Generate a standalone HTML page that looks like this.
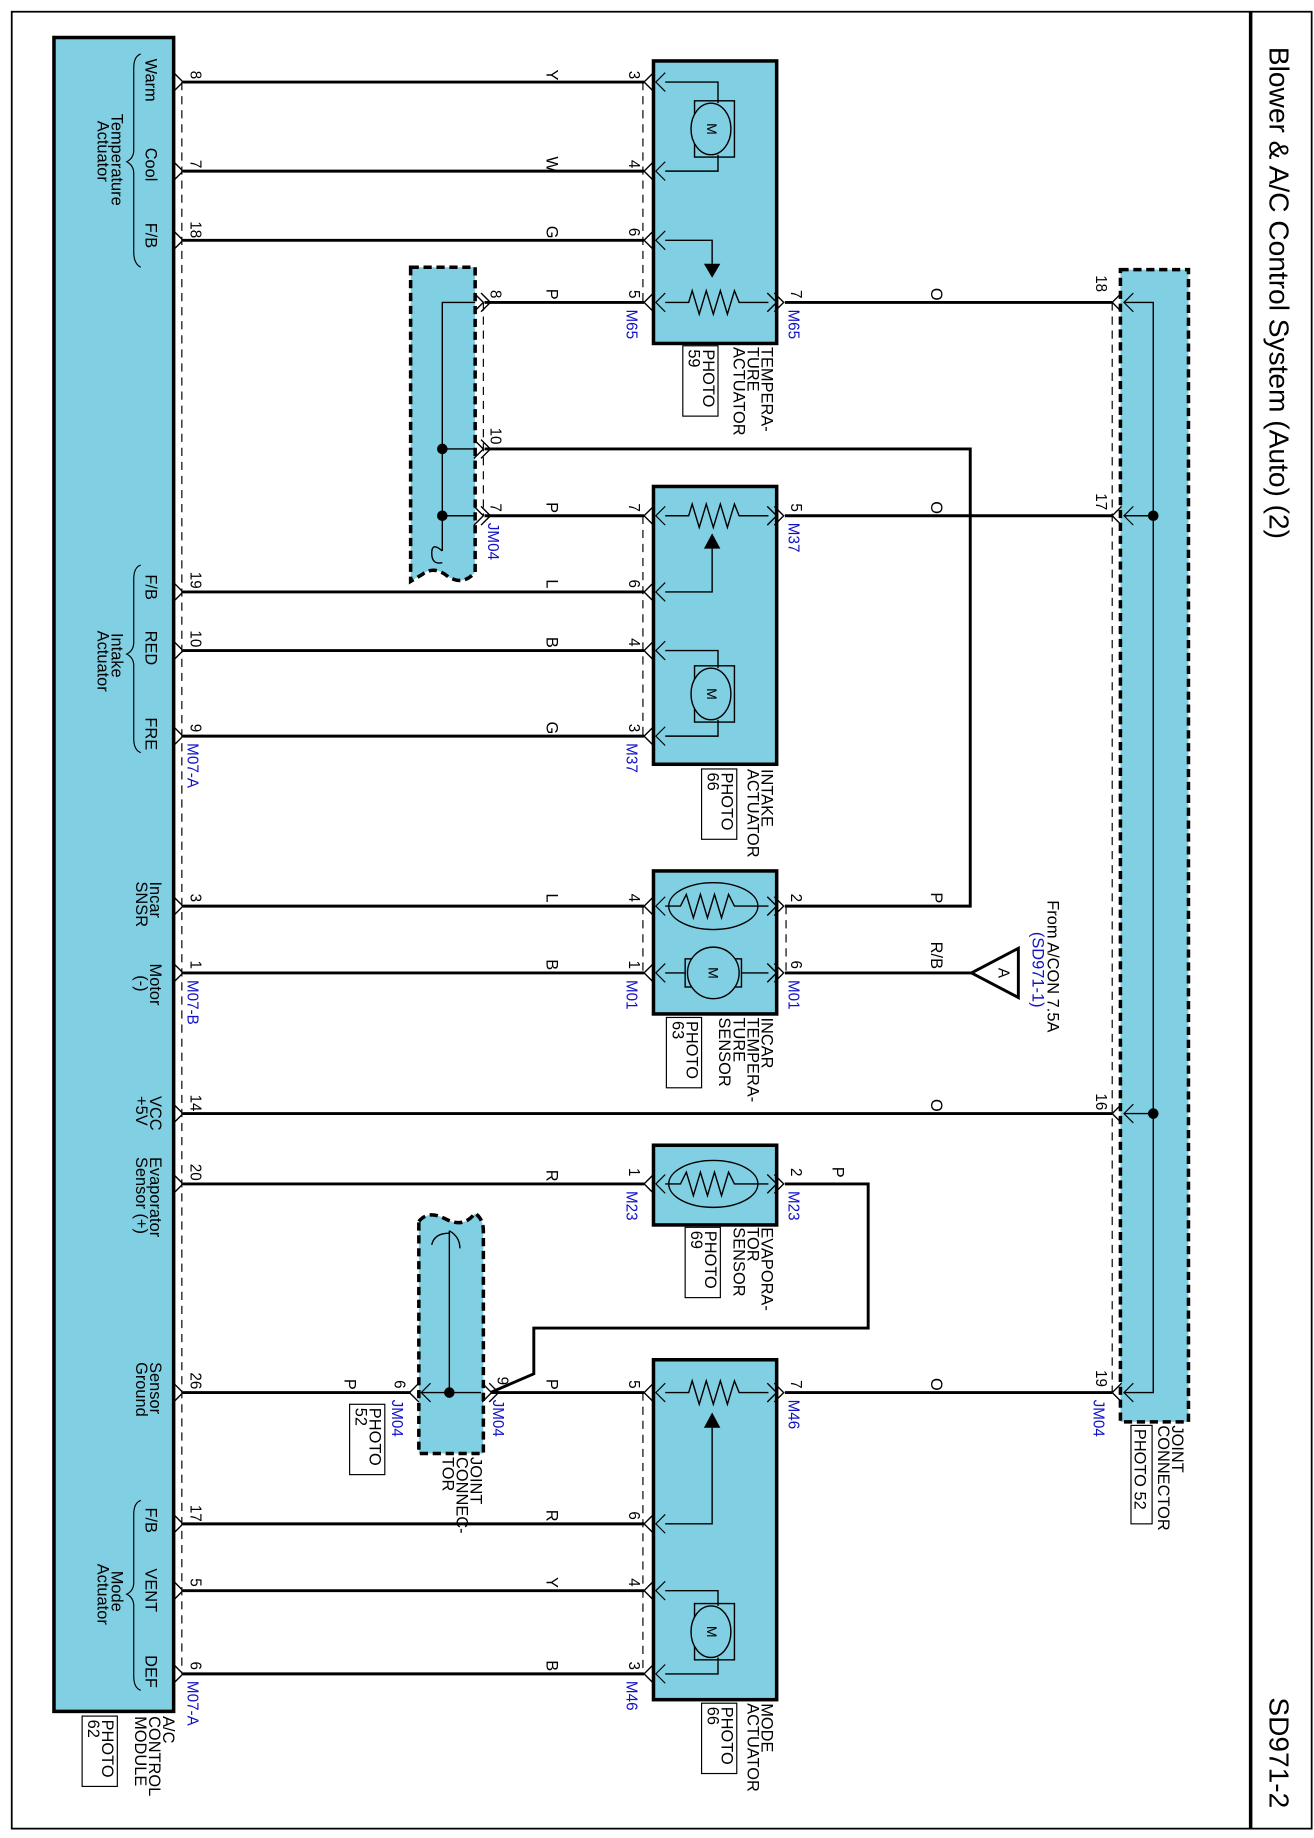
<!DOCTYPE html>
<html><head><meta charset="utf-8"><style>
html,body{margin:0;padding:0;background:#fff}
svg{display:block}
text{font-family:"Liberation Sans",sans-serif;fill:#000}
.b{fill:#1010c8}
</style></head><body>
<svg width="1314" height="1838" viewBox="0 0 1120 1568" preserveAspectRatio="none" xmlns="http://www.w3.org/2000/svg">
<defs>
<g id="mp"><path d="M-8,-8 L0,0 L-8,8" fill="none" stroke="#000" stroke-width="1.2"/></g>
<g id="cl"><path d="M8,-8 L0,0 L8,8" fill="none" stroke="#000" stroke-width="1.2"/><path d="M18,-8 L10,0 L18,8" fill="none" stroke="#000" stroke-width="1"/></g>
<g id="cr"><path d="M-8,-8 L0,0 L-8,8" fill="none" stroke="#000" stroke-width="1.2"/><path d="M-2,-8 L6,0 L-2,8" fill="none" stroke="#000" stroke-width="1.2"/></g>
</defs>
<rect x="10" y="10" width="1108" height="1550" fill="none" stroke="#000" stroke-width="1.5"/>
<line x1="1066" y1="10" x2="1066" y2="1560" stroke="#000" stroke-width="3"/>
<g transform="translate(1082,40) rotate(90)"><text font-size="24">Blower &amp; A/C Control System (Auto) (2)</text></g>
<g transform="translate(1082,1448) rotate(90)"><text font-size="24">SD971-2</text></g>

<!-- module -->
<rect x="46" y="32" width="102" height="1428" fill="#80cfe2" stroke="#000" stroke-width="3"/>
<line x1="155" y1="70" x2="155" y2="1428" stroke="#000" stroke-width="1" stroke-dasharray="7,5"/>
<line x1="548" y1="70" x2="548" y2="258" stroke="#000" stroke-width="1" stroke-dasharray="7,5"/>
<line x1="548" y1="440" x2="548" y2="628" stroke="#000" stroke-width="1" stroke-dasharray="7,5"/>
<line x1="548" y1="773" x2="548" y2="830" stroke="#000" stroke-width="1" stroke-dasharray="7,5"/>
<line x1="670" y1="773" x2="670" y2="830" stroke="#000" stroke-width="1" stroke-dasharray="7,5"/>
<line x1="548" y1="1188" x2="548" y2="1428" stroke="#000" stroke-width="1" stroke-dasharray="7,5"/>
<line x1="412" y1="258" x2="412" y2="440" stroke="#000" stroke-width="1" stroke-dasharray="7,5"/>
<line x1="948" y1="258" x2="948" y2="1188" stroke="#000" stroke-width="1" stroke-dasharray="7,5"/>

<g font-size="14">
<g transform="translate(124,50) rotate(90)"><text>Warm</text></g>
<g transform="translate(124,126) rotate(90)"><text>Cool</text></g>
<g transform="translate(124,190) rotate(90)"><text>F/B</text></g>
<g transform="translate(95,97) rotate(90)"><text>Temperature</text></g>
<g transform="translate(83,103) rotate(90)"><text>Actuator</text></g>
<g transform="translate(124,490) rotate(90)"><text>F/B</text></g>
<g transform="translate(124,538) rotate(90)"><text>RED</text></g>
<g transform="translate(124,612) rotate(90)"><text>FRE</text></g>
<g transform="translate(95,540) rotate(90)"><text>Intake</text></g>
<g transform="translate(83,538) rotate(90)"><text>Actuator</text></g>
<g transform="translate(128,752) rotate(90)"><text>Incar</text></g>
<g transform="translate(116,752) rotate(90)"><text>SNSR</text></g>
<g transform="translate(128,822) rotate(90)"><text>Motor</text></g>
<g transform="translate(116,832) rotate(90)"><text>(-)</text></g>
<g transform="translate(128,935) rotate(90)"><text>VCC</text></g>
<g transform="translate(116,935) rotate(90)"><text>+5V</text></g>
<g transform="translate(128,987) rotate(90)"><text>Evaporator</text></g>
<g transform="translate(116,987) rotate(90)"><text>Sensor (+)</text></g>
<g transform="translate(128,1162) rotate(90)"><text>Sensor</text></g>
<g transform="translate(116,1162) rotate(90)"><text>Ground</text></g>
<g transform="translate(124,1286) rotate(90)"><text>F/B</text></g>
<g transform="translate(124,1338) rotate(90)"><text>VENT</text></g>
<g transform="translate(124,1412) rotate(90)"><text>DEF</text></g>
<g transform="translate(95,1340) rotate(90)"><text>Mode</text></g>
<g transform="translate(83,1334) rotate(90)"><text>Actuator</text></g>
</g>
<g fill="none" stroke="#000" stroke-width="1">
<path d="M120,46 Q114,48 114,58 L114,128 Q114,135 108,138 Q114,141 114,148 L114,215 Q114,225 120,228"/>
<path d="M120,482 Q114,484 114,494 L114,548 Q114,555 108,558 Q114,561 114,568 L114,630 Q114,640 120,642"/>
<path d="M120,1280 Q114,1282 114,1292 L114,1350 Q114,1357 108,1360 Q114,1363 114,1370 L114,1430 Q114,1440 120,1442"/>
</g>

<!-- wires -->
<g stroke="#000" stroke-width="2.5" fill="none">
<line x1="156" y1="70" x2="549" y2="70"/>
<line x1="156" y1="146" x2="549" y2="146"/>
<line x1="156" y1="205" x2="549" y2="205"/>
<line x1="413" y1="258" x2="549" y2="258"/>
<line x1="669" y1="258" x2="948" y2="258"/>
<polyline points="413,383 827,383 827,773 669,773"/>
<line x1="413" y1="440" x2="549" y2="440"/>
<line x1="669" y1="440" x2="948" y2="440"/>
<line x1="156" y1="505" x2="549" y2="505"/>
<line x1="156" y1="555" x2="549" y2="555"/>
<line x1="156" y1="628" x2="549" y2="628"/>
<line x1="156" y1="773" x2="549" y2="773"/>
<line x1="156" y1="830" x2="549" y2="830"/>
<line x1="669" y1="830" x2="828" y2="830"/>
<line x1="156" y1="950" x2="948" y2="950"/>
<line x1="156" y1="1010" x2="549" y2="1010"/>
<polyline points="669,1010 740,1010 740,1133 455,1133 455,1172 418,1188"/>
<line x1="156" y1="1188" x2="350" y2="1188"/>
<line x1="419" y1="1188" x2="549" y2="1188"/>
<line x1="669" y1="1188" x2="948" y2="1188"/>
<line x1="156" y1="1300" x2="549" y2="1300"/>
<line x1="156" y1="1357" x2="549" y2="1357"/>
<line x1="156" y1="1428" x2="549" y2="1428"/>
</g>

<!-- module pins -->
<g>
<use href="#mp" x="156" y="70"/><use href="#mp" x="156" y="146"/><use href="#mp" x="156" y="205"/>
<use href="#mp" x="156" y="505"/><use href="#mp" x="156" y="555"/><use href="#mp" x="156" y="628"/>
<use href="#mp" x="156" y="773"/><use href="#mp" x="156" y="830"/><use href="#mp" x="156" y="950"/>
<use href="#mp" x="156" y="1010"/><use href="#mp" x="156" y="1188"/><use href="#mp" x="156" y="1300"/>
<use href="#mp" x="156" y="1357"/><use href="#mp" x="156" y="1428"/>
</g>

<!-- components -->
<g fill="#80cfe2" stroke="#000" stroke-width="3">
<rect x="557" y="52" width="105" height="241"/>
<rect x="557" y="415" width="105" height="237"/>
<rect x="557" y="743" width="105" height="122"/>
<rect x="557" y="977" width="105" height="68"/>
<rect x="557" y="1160" width="105" height="290"/>
</g>
<g fill="#80cfe2" stroke="#000" stroke-width="3" stroke-dasharray="7,4">
<rect x="955" y="230" width="58" height="983"/>
<path d="M350,228 L405,228 L405,488 Q395,500 382,492 Q370,482 360,490 L350,496 Z"/>
<path d="M357,1042 Q365,1032 380,1040 Q395,1048 405,1035 Q412,1040 412,1050 L412,1240 L357,1240 Z"/>
</g>
<!-- component pin chevrons -->
<g>
<use href="#cl" x="549" y="70"/><use href="#cl" x="549" y="146"/><use href="#cl" x="549" y="205"/><use href="#cl" x="549" y="258"/>
<use href="#cr" x="662" y="258"/>
<use href="#cl" x="549" y="440"/><use href="#cl" x="549" y="505"/><use href="#cl" x="549" y="555"/><use href="#cl" x="549" y="628"/>
<use href="#cr" x="662" y="440"/>
<use href="#cl" x="549" y="773"/><use href="#cl" x="549" y="830"/><use href="#cr" x="662" y="773"/><use href="#cr" x="662" y="830"/>
<use href="#cl" x="549" y="1010"/><use href="#cr" x="662" y="1010"/>
<use href="#cl" x="549" y="1188"/><use href="#cl" x="549" y="1300"/><use href="#cl" x="549" y="1357"/><use href="#cl" x="549" y="1428"/>
<use href="#cr" x="662" y="1188"/>
<use href="#cl" x="948" y="258"/><use href="#cl" x="948" y="440"/><use href="#cl" x="948" y="950"/><use href="#cl" x="948" y="1188"/>
<use href="#cr" x="412" y="258"/><use href="#cr" x="412" y="383"/><use href="#cr" x="412" y="440"/>
<use href="#cr" x="419" y="1188"/><use href="#cl" x="349" y="1188"/>
</g>

<!-- internals -->
<g fill="none" stroke="#000" stroke-width="1.2">
<polyline points="567,70 612,70 612,88"/><polyline points="567,146 612,146 612,132"/>
<rect x="592" y="86" width="34" height="48"/><ellipse cx="606" cy="110" rx="17" ry="22" fill="#80cfe2"/>
<polyline points="567,205 607,205 607,225"/>
<polyline points="567,258 587,258 590,248 596,268 602,248 608,268 614,248 620,268 626,248 630,258 655,258"/>
<polyline points="567,440 587,440 590,430 596,450 602,430 608,450 614,430 620,450 626,430 630,440 655,440"/>
<polyline points="567,505 607,505 607,468"/>
<polyline points="567,555 612,555 612,570"/><polyline points="567,628 612,628 612,614"/>
<rect x="592" y="568" width="34" height="48"/><ellipse cx="606" cy="592" rx="17" ry="22" fill="#80cfe2"/>
<ellipse cx="608" cy="773" rx="38" ry="20"/>
<polyline points="567,773 580,773 585,763 591,783 597,763 603,783 609,763 615,783 621,763 626,773 655,773"/>
<polyline points="567,830 584,830"/><polyline points="632,830 655,830"/>
<rect x="584" y="818" width="48" height="24"/><circle cx="608" cy="830" r="22" fill="#80cfe2"/>
<ellipse cx="608" cy="1010" rx="38" ry="20"/>
<polyline points="567,1010 580,1010 585,1000 591,1020 597,1000 603,1020 609,1000 615,1020 621,1000 626,1010 655,1010"/>
<polyline points="567,1188 587,1188 590,1178 596,1198 602,1178 608,1198 614,1178 620,1198 626,1178 630,1188 655,1188"/>
<polyline points="567,1300 607,1300 607,1218"/>
<polyline points="567,1357 612,1357 612,1370"/><polyline points="567,1428 612,1428 612,1414"/>
<rect x="592" y="1368" width="34" height="48"/><ellipse cx="606" cy="1392" rx="17" ry="22" fill="#80cfe2"/>
<polyline points="958,258 983,258 983,1188 958,1188"/>
<line x1="958" y1="440" x2="983" y2="440"/><line x1="958" y1="950" x2="983" y2="950"/>
<polyline points="405,258 377,258 377,470"/>
<line x1="377" y1="383" x2="405" y2="383"/><line x1="377" y1="440" x2="405" y2="440"/>
<path d="M377,470 Q368,462 368,472 Q368,482 377,480"/>
<line x1="383" y1="1050" x2="383" y2="1188"/>
<line x1="359" y1="1188" x2="410" y2="1188"/>
<path d="M383,1050 Q392,1055 392,1065 M383,1052 Q370,1052 368,1062"/>
</g>
<g fill="#000">
<path d="M600,225 L614,225 L607,237 Z"/>
<path d="M600,468 L614,468 L607,455 Z"/>
<path d="M600,1218 L614,1218 L607,1205 Z"/>
<circle cx="983" cy="440" r="4.5"/><circle cx="983" cy="950" r="4.5"/>
<circle cx="377" cy="383" r="4.5"/><circle cx="377" cy="440" r="4.5"/><circle cx="383" cy="1188" r="4.5"/>
</g>
<g font-size="12">
<g transform="translate(607,110) rotate(90)"><text text-anchor="middle" dominant-baseline="central">M</text></g>
<g transform="translate(607,592) rotate(90)"><text text-anchor="middle" dominant-baseline="central">M</text></g>
<g transform="translate(608,830) rotate(90)"><text text-anchor="middle" dominant-baseline="central">M</text></g>
<g transform="translate(607,1392) rotate(90)"><text text-anchor="middle" dominant-baseline="central">M</text></g>
</g>

<path d="M828,830 L868,809 L868,851 Z" fill="#fff" stroke="#000" stroke-width="2.5"/>
<g transform="translate(855,830) rotate(90)"><text font-size="13" text-anchor="middle" dominant-baseline="central">A</text></g>
<g transform="translate(893,768) rotate(90)"><text font-size="14">From A/CON 7.5A</text></g>
<g transform="translate(880,795) rotate(90)"><text font-size="14" class="b">(SD971-1)</text></g>

<g font-size="14">
<g transform="translate(470,64) rotate(90)"><text text-anchor="middle" dominant-baseline="central">Y</text></g>
<g transform="translate(470,140) rotate(90)"><text text-anchor="middle" dominant-baseline="central">W</text></g>
<g transform="translate(470,198) rotate(90)"><text text-anchor="middle" dominant-baseline="central">G</text></g>
<g transform="translate(470,251) rotate(90)"><text text-anchor="middle" dominant-baseline="central">P</text></g>
<g transform="translate(798,251) rotate(90)"><text text-anchor="middle" dominant-baseline="central">O</text></g>
<g transform="translate(470,433) rotate(90)"><text text-anchor="middle" dominant-baseline="central">P</text></g>
<g transform="translate(798,433) rotate(90)"><text text-anchor="middle" dominant-baseline="central">O</text></g>
<g transform="translate(470,498) rotate(90)"><text text-anchor="middle" dominant-baseline="central">L</text></g>
<g transform="translate(470,548) rotate(90)"><text text-anchor="middle" dominant-baseline="central">B</text></g>
<g transform="translate(470,621) rotate(90)"><text text-anchor="middle" dominant-baseline="central">G</text></g>
<g transform="translate(470,766) rotate(90)"><text text-anchor="middle" dominant-baseline="central">L</text></g>
<g transform="translate(798,766) rotate(90)"><text text-anchor="middle" dominant-baseline="central">P</text></g>
<g transform="translate(470,823) rotate(90)"><text text-anchor="middle" dominant-baseline="central">B</text></g>
<g transform="translate(798,815) rotate(90)"><text text-anchor="middle" dominant-baseline="central">R/B</text></g>
<g transform="translate(798,943) rotate(90)"><text text-anchor="middle" dominant-baseline="central">O</text></g>
<g transform="translate(470,1003) rotate(90)"><text text-anchor="middle" dominant-baseline="central">R</text></g>
<g transform="translate(714,1000) rotate(90)"><text text-anchor="middle" dominant-baseline="central">P</text></g>
<g transform="translate(298,1181) rotate(90)"><text text-anchor="middle" dominant-baseline="central">P</text></g>
<g transform="translate(470,1181) rotate(90)"><text text-anchor="middle" dominant-baseline="central">P</text></g>
<g transform="translate(798,1181) rotate(90)"><text text-anchor="middle" dominant-baseline="central">O</text></g>
<g transform="translate(470,1293) rotate(90)"><text text-anchor="middle" dominant-baseline="central">R</text></g>
<g transform="translate(470,1350) rotate(90)"><text text-anchor="middle" dominant-baseline="central">Y</text></g>
<g transform="translate(470,1421) rotate(90)"><text text-anchor="middle" dominant-baseline="central">B</text></g>
</g>

<g font-size="13">
<g transform="translate(166,64) rotate(90)"><text text-anchor="middle" dominant-baseline="central">8</text></g>
<g transform="translate(166,140) rotate(90)"><text text-anchor="middle" dominant-baseline="central">7</text></g>
<g transform="translate(166,196) rotate(90)"><text text-anchor="middle" dominant-baseline="central">18</text></g>
<g transform="translate(166,495) rotate(90)"><text text-anchor="middle" dominant-baseline="central">19</text></g>
<g transform="translate(166,545) rotate(90)"><text text-anchor="middle" dominant-baseline="central">10</text></g>
<g transform="translate(166,621) rotate(90)"><text text-anchor="middle" dominant-baseline="central">9</text></g>
<g transform="translate(166,766) rotate(90)"><text text-anchor="middle" dominant-baseline="central">3</text></g>
<g transform="translate(166,823) rotate(90)"><text text-anchor="middle" dominant-baseline="central">1</text></g>
<g transform="translate(166,941) rotate(90)"><text text-anchor="middle" dominant-baseline="central">14</text></g>
<g transform="translate(166,1000) rotate(90)"><text text-anchor="middle" dominant-baseline="central">20</text></g>
<g transform="translate(166,1178) rotate(90)"><text text-anchor="middle" dominant-baseline="central">26</text></g>
<g transform="translate(166,1291) rotate(90)"><text text-anchor="middle" dominant-baseline="central">17</text></g>
<g transform="translate(166,1350) rotate(90)"><text text-anchor="middle" dominant-baseline="central">5</text></g>
<g transform="translate(166,1421) rotate(90)"><text text-anchor="middle" dominant-baseline="central">6</text></g>
<g transform="translate(540,64) rotate(90)"><text text-anchor="middle" dominant-baseline="central">3</text></g>
<g transform="translate(540,140) rotate(90)"><text text-anchor="middle" dominant-baseline="central">4</text></g>
<g transform="translate(540,198) rotate(90)"><text text-anchor="middle" dominant-baseline="central">6</text></g>
<g transform="translate(540,251) rotate(90)"><text text-anchor="middle" dominant-baseline="central">5</text></g>
<g transform="translate(678,251) rotate(90)"><text text-anchor="middle" dominant-baseline="central">7</text></g>
<g transform="translate(422,251) rotate(90)"><text text-anchor="middle" dominant-baseline="central">8</text></g>
<g transform="translate(422,372) rotate(90)"><text text-anchor="middle" dominant-baseline="central">10</text></g>
<g transform="translate(422,433) rotate(90)"><text text-anchor="middle" dominant-baseline="central">7</text></g>
<g transform="translate(540,433) rotate(90)"><text text-anchor="middle" dominant-baseline="central">7</text></g>
<g transform="translate(678,433) rotate(90)"><text text-anchor="middle" dominant-baseline="central">5</text></g>
<g transform="translate(540,498) rotate(90)"><text text-anchor="middle" dominant-baseline="central">6</text></g>
<g transform="translate(540,548) rotate(90)"><text text-anchor="middle" dominant-baseline="central">4</text></g>
<g transform="translate(540,621) rotate(90)"><text text-anchor="middle" dominant-baseline="central">3</text></g>
<g transform="translate(540,766) rotate(90)"><text text-anchor="middle" dominant-baseline="central">4</text></g>
<g transform="translate(678,766) rotate(90)"><text text-anchor="middle" dominant-baseline="central">2</text></g>
<g transform="translate(540,823) rotate(90)"><text text-anchor="middle" dominant-baseline="central">1</text></g>
<g transform="translate(678,823) rotate(90)"><text text-anchor="middle" dominant-baseline="central">6</text></g>
<g transform="translate(540,1000) rotate(90)"><text text-anchor="middle" dominant-baseline="central">1</text></g>
<g transform="translate(678,1000) rotate(90)"><text text-anchor="middle" dominant-baseline="central">2</text></g>
<g transform="translate(340,1181) rotate(90)"><text text-anchor="middle" dominant-baseline="central">6</text></g>
<g transform="translate(428,1178) rotate(90)"><text text-anchor="middle" dominant-baseline="central">9</text></g>
<g transform="translate(540,1181) rotate(90)"><text text-anchor="middle" dominant-baseline="central">5</text></g>
<g transform="translate(678,1181) rotate(90)"><text text-anchor="middle" dominant-baseline="central">7</text></g>
<g transform="translate(540,1293) rotate(90)"><text text-anchor="middle" dominant-baseline="central">6</text></g>
<g transform="translate(540,1350) rotate(90)"><text text-anchor="middle" dominant-baseline="central">4</text></g>
<g transform="translate(540,1421) rotate(90)"><text text-anchor="middle" dominant-baseline="central">3</text></g>
<g transform="translate(938,242) rotate(90)"><text text-anchor="middle" dominant-baseline="central">18</text></g>
<g transform="translate(938,428) rotate(90)"><text text-anchor="middle" dominant-baseline="central">17</text></g>
<g transform="translate(938,940) rotate(90)"><text text-anchor="middle" dominant-baseline="central">16</text></g>
<g transform="translate(938,1176) rotate(90)"><text text-anchor="middle" dominant-baseline="central">19</text></g>
</g>

<g font-size="13">
<g transform="translate(534,264) rotate(90)"><text class="b">M65</text></g>
<g transform="translate(672,264) rotate(90)"><text class="b">M65</text></g>
<g transform="translate(416,446) rotate(90)"><text class="b">JM04</text></g>
<g transform="translate(672,446) rotate(90)"><text class="b">M37</text></g>
<g transform="translate(534,634) rotate(90)"><text class="b">M37</text></g>
<g transform="translate(160,634) rotate(90)"><text class="b">M07-A</text></g>
<g transform="translate(160,836) rotate(90)"><text class="b">M07-B</text></g>
<g transform="translate(534,836) rotate(90)"><text class="b">M01</text></g>
<g transform="translate(672,836) rotate(90)"><text class="b">M01</text></g>
<g transform="translate(534,1016) rotate(90)"><text class="b">M23</text></g>
<g transform="translate(672,1016) rotate(90)"><text class="b">M23</text></g>
<g transform="translate(334,1194) rotate(90)"><text class="b">JM04</text></g>
<g transform="translate(420,1194) rotate(90)"><text class="b">JM04</text></g>
<g transform="translate(672,1194) rotate(90)"><text class="b">M46</text></g>
<g transform="translate(932,1194) rotate(90)"><text class="b">JM04</text></g>
<g transform="translate(534,1434) rotate(90)"><text class="b">M46</text></g>
<g transform="translate(160,1434) rotate(90)"><text class="b">M07-A</text></g>
</g>

<g font-size="14">
<g transform="translate(649,296) rotate(90)"><text>TEMPERA-<tspan x="0" dy="12">TURE</tspan><tspan x="0" dy="12">ACTUATOR</tspan></text></g>
<rect x="582" y="295" width="30" height="60" fill="none" stroke="#000" stroke-width="1"/>
<g transform="translate(599,298) rotate(90)"><text>PHOTO<tspan x="0" dy="12">59</tspan></text></g>
<g transform="translate(649,656) rotate(90)"><text>INTAKE<tspan x="0" dy="12">ACTUATOR</tspan></text></g>
<rect x="598" y="656" width="30" height="60" fill="none" stroke="#000" stroke-width="1"/>
<g transform="translate(615,659) rotate(90)"><text>PHOTO<tspan x="0" dy="12">66</tspan></text></g>
<g transform="translate(649,868) rotate(90)"><text>INCAR<tspan x="0" dy="12">TEMPERA-</tspan><tspan x="0" dy="12">TURE</tspan><tspan x="0" dy="12">SENSOR</tspan></text></g>
<rect x="568" y="868" width="30" height="60" fill="none" stroke="#000" stroke-width="1"/>
<g transform="translate(585,871) rotate(90)"><text>PHOTO<tspan x="0" dy="12">63</tspan></text></g>
<g transform="translate(649,1047) rotate(90)"><text>EVAPORA-<tspan x="0" dy="12">TOR</tspan><tspan x="0" dy="12">SENSOR</tspan></text></g>
<rect x="584" y="1047" width="30" height="60" fill="none" stroke="#000" stroke-width="1"/>
<g transform="translate(601,1050) rotate(90)"><text>PHOTO<tspan x="0" dy="12">69</tspan></text></g>
<g transform="translate(649,1453) rotate(90)"><text>MODE<tspan x="0" dy="12">ACTUATOR</tspan></text></g>
<rect x="598" y="1453" width="30" height="60" fill="none" stroke="#000" stroke-width="1"/>
<g transform="translate(615,1456) rotate(90)"><text>PHOTO<tspan x="0" dy="12">66</tspan></text></g>
<g transform="translate(999,1216) rotate(90)"><text>JOINT<tspan x="0" dy="12">CONNECTOR</tspan></text></g>
<rect x="964" y="1216" width="18" height="84" fill="none" stroke="#000" stroke-width="1"/>
<g transform="translate(967,1219) rotate(90)"><text>PHOTO 52</text></g>
<g transform="translate(401,1243) rotate(90)"><text>JOINT<tspan x="0" dy="12">CONNEC-</tspan><tspan x="0" dy="12">TOR</tspan></text></g>
<rect x="298" y="1198" width="30" height="60" fill="none" stroke="#000" stroke-width="1"/>
<g transform="translate(315,1201) rotate(90)"><text>PHOTO<tspan x="0" dy="12">52</tspan></text></g>
<g transform="translate(139,1464) rotate(90)"><text>A/C<tspan x="0" dy="12">CONTROL</tspan><tspan x="0" dy="12">MODULE</tspan></text></g>
<rect x="70" y="1464" width="30" height="60" fill="none" stroke="#000" stroke-width="1"/>
<g transform="translate(87,1467) rotate(90)"><text>PHOTO<tspan x="0" dy="12">62</tspan></text></g>
</g>
</svg>
</body></html>
